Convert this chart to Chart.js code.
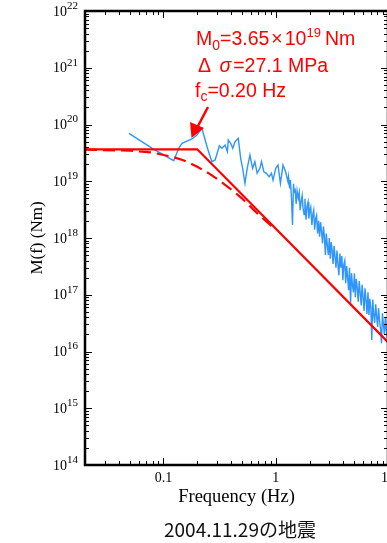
<!DOCTYPE html>
<html><head><meta charset="utf-8">
<script src="https://cdn.jsdelivr.net/npm/chart.js@4.4.1/dist/chart.umd.min.js"></script>
<style>
html,body{margin:0;padding:0;background:#fff;overflow:hidden;width:387px;height:543px;}
#wrap{position:relative;width:400px;height:543px;}
#caption{position:absolute;left:140px;width:200px;top:516px;text-align:center;font-family:"Noto Sans CJK JP";font-size:19px;line-height:26px;color:#111;white-space:nowrap;}
</style></head>
<body>
<div id="wrap"><canvas id="c" width="400" height="543"></canvas>
<div id="caption">2004.11.29の地震</div></div>
<script>
// ---- data ----
const obsFreq = [
0.0493,0.0794,0.1234,0.1366,0.1464,0.1795,0.1987,0.220,0.2466,0.2698,
0.2886,0.315,0.331,0.354,0.371,0.378,0.397,0.414,0.434,0.464,
0.487,0.507,0.532,0.557,0.589,0.622,0.652,0.683,0.722,0.747,
0.783,0.827,0.873,0.916,0.946,1.0,1.048,1.101,1.161,1.225,1.285,
1.30,1.33,1.35,1.38,1.41,1.44,1.46,1.49,1.52,1.55,
1.59,1.62,1.65,1.68,1.72,1.75,1.79,1.82,1.86,1.90,
1.94,1.97,2.01,2.05,2.10,2.14,2.18,2.22,2.27,2.31,
2.36,2.41,2.46,2.51,2.56,2.61,2.66,2.71,2.77,2.82,
2.88,2.94,3.00,3.06,3.12,3.18,3.24,3.31,3.38,3.44,
3.51,3.58,3.65,3.73,3.80,3.88,3.96,4.04,4.12,4.20,
4.28,4.37,4.46,4.54,4.64,4.73,4.82,4.92,5.02,5.12,
5.22,5.33,5.43,5.54,5.65,5.77,5.88,6.00,6.12,6.24,
6.37,6.50,6.63,6.76,6.89,7.03,7.17,7.32,7.46,7.61,
7.77,7.92,8.08,8.24,8.41,8.58,8.75,8.92,9.10,9.28,
9.47,9.66,9.85,10.0];
const obsMoment = [
7.0e19,3.81e19,2.30e19,3.81e19,4.67e19,5.55e19,6.53e19,8.57e19,3.81e19,2.21e19,
2.37e19,4.23e19,3.81e19,4.35e19,3.32e19,5.33e19,4.67e19,3.81e19,4.98e19,5.71e19,
2.54e19,1.69e19,9.2e18,1.69e19,2.90e19,1.69e19,2.21e19,1.38e19,1.69e19,2.21e19,
1.47e19,1.38e19,1.20e19,1.38e19,1.05e19,1.69e19,1.93e19,9.2e18,1.93e19,1.47e19,9.8e18,
1.2e19,7.5e18,1.05e19,5.2e18,1.7e18,9.0e18,6.5e18,7.0e18,4.0e18,6.8e18,
5.0e18,6.3e18,3.1e18,4.2e18,5.6e18,3.4e18,2.6e18,4.9e18,2.1e18,3.6e18,
4.3e18,2.2e18,3.0e18,3.5e18,1.7e18,2.6e18,3.1e18,1.4e18,2.2e18,2.5e18,
1.2e18,2.0e18,1.05e18,1.9e18,1.3e18,8.0e17,1.6e18,1.1e18,5.0e17,1.2e18,
7.5e17,5.0e17,1.0e18,4.3e17,8.5e17,6.0e17,3.5e17,7.3e17,4.5e17,3.0e17,
6.0e17,3.5e17,2.2e17,5.3e17,3.0e17,4.8e17,1.8e17,3.4e17,4.0e17,1.6e17,
3.2e17,2.0e17,1.2e17,3.0e17,7.0e16,2.4e17,1.5e17,1.1e17,2.4e17,9.0e16,
1.9e17,1.3e17,7.5e16,1.75e17,1.1e17,6.5e16,1.5e17,9.0e16,5.2e16,1.3e17,
8.0e16,4.6e16,1.1e17,4.4e16,8.5e16,6.0e16,1.6e16,8.2e16,4.5e16,3.2e16,
6.8e16,4.2e16,2.7e16,5.8e16,3.5e16,2.4e16,1.4e16,4.7e16,3.0e16,2.0e16,
4.0e16,2.4e16,1.7e16,3.4e16];
const modelFreq = [0.02, 0.20, 10];
const modelMoment = [3.65e19, 3.65e19, 1.46e16];
const bruneFreq = [0.02,0.05,0.08,0.10,0.12,0.15,0.18,0.20,0.25,0.30,0.40,0.50,0.70,1.0];
const bruneMoment = [3.6e19,3.45e19,3.2e19,2.9e19,2.7e19,2.35e19,2.0e19,1.8e19,1.4e19,1.1e19,7.2e18,5.0e18,2.6e18,1.4e18];
const xMajorTicks = [0.1, 1, 10];
const xTickLabels = ['0.1', '1', '10'];
const yTickExponents = [14,15,16,17,18,19,20,21,22];

const pts = (xs, ys) => xs.map((v, i) => ({x: v, y: ys[i]}));
const SERIF = '"Liberation Serif", "Times New Roman", serif';
const SANS = '"Liberation Sans", Arial, sans-serif';

function seg(ctx, x, y, parts) {
  for (const p of parts) {
    ctx.font = (p.italic ? 'italic ' : '') + p.size + 'px ' + (p.serif ? SERIF : SANS);
    ctx.fillText(p.t, x, y + (p.dy || 0));
    x += ctx.measureText(p.t).width + (p.gap || 0);
  }
}

const framePlugin = {
  id: 'frame',
  afterDraw(chart) {
    const {ctx, chartArea: {left, right, top, bottom}, scales: {x, y}} = chart;
    ctx.save();
    ctx.strokeStyle = '#000';
    ctx.lineWidth = 1;
    const line = (a, b, c, d) => { ctx.beginPath(); ctx.moveTo(a, b); ctx.lineTo(c, d); ctx.stroke(); };
    for (let e = -2; e <= 1; e++) for (let m = 1; m <= 9; m++) {
      const v = m * Math.pow(10, e);
      if (v < x.min - 1e-9 || v > x.max + 1e-9) continue;
      const px = Math.round(x.getPixelForValue(v)) + 0.5;
      const len = m === 1 ? 7 : 4;
      line(px, bottom, px, bottom - len);
      line(px, top, px, top + len);
    }
    for (let e = 14; e <= 21; e++) for (let m = 1; m <= 9; m++) {
      const v = m * Math.pow(10, e);
      const py = Math.round(y.getPixelForValue(v)) + 0.5;
      const len = m === 1 ? 7 : 4;
      line(left, py, left + len, py);
      line(right, py, right - len, py);
    }
    ctx.lineWidth = 2.5;
    ctx.strokeRect(left, top, right - left, bottom - top);
    ctx.fillStyle = '#000';
    ctx.textBaseline = 'middle';
    for (const e of yTickExponents) {
      const py = y.getPixelForValue(Math.pow(10, e));
      ctx.font = '14px ' + SERIF;
      ctx.textAlign = 'right';
      ctx.fillText('10', 67, py + 1);
      ctx.font = '11px ' + SERIF;
      ctx.textAlign = 'left';
      ctx.fillText(String(e), 67, py - 5);
    }
    ctx.fillStyle = '#ff0000';
    ctx.textAlign = 'left';
    ctx.textBaseline = 'alphabetic';
    seg(ctx, left + 111, top + 34, [
      {t: 'M', size: 19.5}, {t: '0', size: 14, dy: 5}, {t: '=3.65', size: 19.5, gap: 2}, {t: '×', size: 19.5, gap: 2}, {t: '10', size: 19.5}, {t: '19', size: 13, dy: -8, gap: 4}, {t: 'Nm', size: 19.5}
    ]);
    seg(ctx, left + 113, top + 61, [
      {t: 'Δ ', size: 19.5, gap: 3}, {t: 'σ', size: 19.5, italic: true, gap: 2}, {t: '=27.1 MPa', size: 19.5}
    ]);
    seg(ctx, left + 110, top + 86, [
      {t: 'f', size: 19.5}, {t: 'c', size: 14, dy: 4}, {t: '=0.20 Hz', size: 19.5}
    ]);
    ctx.strokeStyle = '#ff0000';
    ctx.lineWidth = 2.5;
    line(208, 107, 198, 126);
    ctx.beginPath();
    ctx.moveTo(191.5, 138); ctx.lineTo(190, 122); ctx.lineTo(204, 128); ctx.closePath();
    ctx.fill();
    ctx.restore();
  }
};

new Chart(document.getElementById('c'), {
  type: 'line',
  data: {
    datasets: [
      {label: 'model', data: pts(modelFreq, modelMoment), borderColor: '#ff0000', borderWidth: 2.2, pointRadius: 0, tension: 0, fill: false},
      {label: 'brune', data: pts(bruneFreq, bruneMoment), borderColor: '#ff0000', borderWidth: 2.2, borderDash: [12, 6], pointRadius: 0, tension: 0, fill: false},
      {label: 'observed', data: pts(obsFreq, obsMoment), borderColor: '#2e95ff', borderWidth: 1.4, pointRadius: 0, tension: 0, fill: false}
    ]
  },
  options: {
    responsive: false, devicePixelRatio: 1, animation: false,
    layout: {padding: {left: 0, top: 11, right: 11, bottom: 0}},
    plugins: {legend: {display: false}, tooltip: {enabled: false}},
    scales: {
      x: {
        type: 'logarithmic', min: 0.02, max: 10,
        grid: {display: false, drawTicks: false},
        border: {display: false},
        ticks: {
          autoSkip: false, maxRotation: 0, padding: 5, color: '#000',
          font: {family: SERIF, size: 14},
          callback: (v) => { const i = xMajorTicks.findIndex(t => Math.abs(t - v) < 1e-9); return i >= 0 ? xTickLabels[i] : ''; }
        },
        title: {display: true, text: 'Frequency (Hz)', color: '#000', font: {family: SERIF, size: 18.5}, padding: {top: 0, bottom: 35}},
        afterFit: (s) => { s.height = 78; }
      },
      y: {
        type: 'logarithmic', min: 1e14, max: 1e22,
        grid: {display: false, drawTicks: false},
        border: {display: false},
        ticks: {display: false},
        title: {display: true, text: 'M(f) (Nm)', color: '#000', font: {family: SERIF, size: 17}, padding: {top: 27, bottom: 0}},
        afterFit: (s) => { s.width = 85; }
      }
    }
  },
  plugins: [framePlugin]
});
</script>
</body></html>
